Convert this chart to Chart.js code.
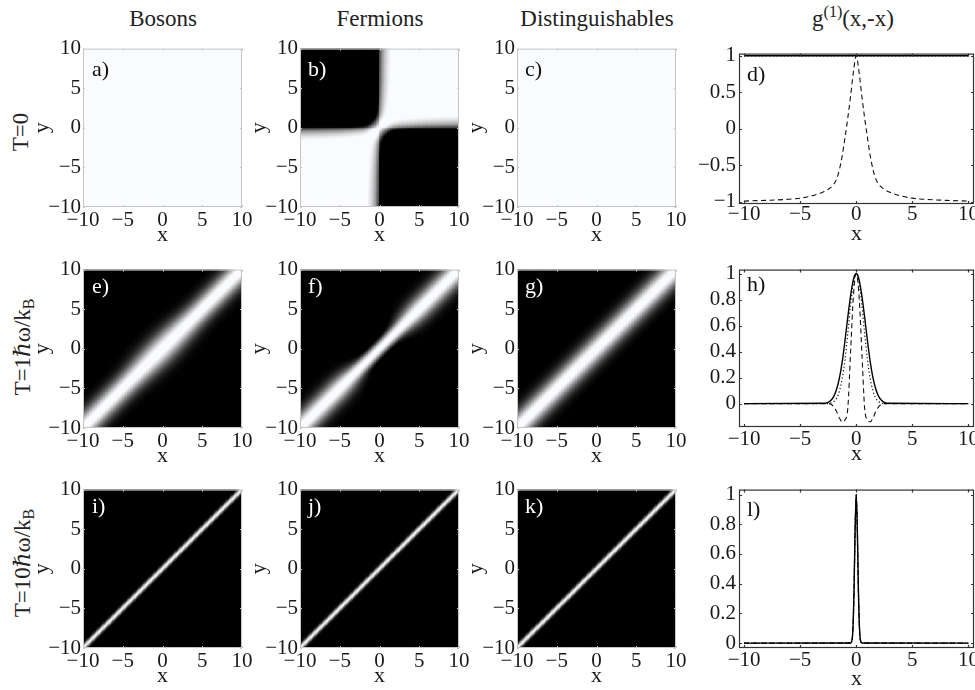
<!DOCTYPE html>
<html>
<head>
<meta charset="utf-8">
<script src="https://cdn.jsdelivr.net/npm/chart.js@4.4.1/dist/chart.umd.min.js"></script>
<style>
html, body { margin: 0; padding: 0; background: #fff; overflow: hidden; }
#fig { position: relative; width: 975px; height: 690px; overflow: hidden;
       font-family: "Liberation Serif", "DejaVu Serif", serif; color: #222; }
#fig canvas { position: absolute; }
.col { position: absolute; top: 7px; font-size: 23px; line-height: 23px; white-space: nowrap; transform: translateX(-50%); }
.row { position: absolute; font-size: 23px; line-height: 23px; white-space: nowrap; transform: translate(-50%, -50%) rotate(-90deg); }
sub { font-size: 16px; line-height: 0; vertical-align: -0.3em; }
sup { font-size: 16px; line-height: 0; vertical-align: 0.55em; }
</style>
</head>
<body>
<div id="fig">
  <div class="col" style="left:163px">Bosons</div>
  <div class="col" style="left:380px">Fermions</div>
  <div class="col" style="left:597px">Distinguishables</div>
  <div class="col" style="left:853px">g<sup>(1)</sup>(x,-x)</div>
  <div class="row" style="left:20px;top:132px">T=0</div>
  <div class="row" style="left:22px;top:347px">T=1ℏω/k<sub>B</sub></div>
  <div class="row" style="left:22px;top:563px">T=10ℏω/k<sub>B</sub></div>
</div>
<script>
// tick labels
const heatTicks = [-10, -5, 0, 5, 10];
const lineXTicks = [-10, -5, 0, 5, 10];
const dYTicks = [-1, -0.5, 0, 0.5, 1];
const hYTicks = [0, 0.2, 0.4, 0.6, 0.8, 1];
const lYTicks = [0, 0.2, 0.4, 0.6, 0.8, 1];

// g1(x,-x) at T = 0  (panel d)
const dX = [-10, -8, -6, -5, -4, -3, -2.5, -2, -1.75, -1.5, -1.25, -1, -0.75, -0.5, -0.25, 0,
            0.25, 0.5, 0.75, 1, 1.25, 1.5, 1.75, 2, 2.5, 3, 4, 5, 6, 8, 10];
const dBosons = [1, 1, 1, 1, 1, 1, 1, 1, 1, 1, 1, 1, 1, 1, 1, 1,
                 1, 1, 1, 1, 1, 1, 1, 1, 1, 1, 1, 1, 1, 1, 1];
const dFermions = [-0.99, -0.98, -0.965, -0.95, -0.92, -0.87, -0.83, -0.76, -0.69, -0.56, -0.37, -0.12, 0.15, 0.45, 0.78, 1,
                   0.78, 0.45, 0.15, -0.12, -0.37, -0.56, -0.69, -0.76, -0.83, -0.87, -0.92, -0.95, -0.965, -0.98, -0.99];
const dDisting = [1, 1, 1, 1, 1, 1, 1, 1, 1, 1, 1, 1, 1, 1, 1, 1,
                  1, 1, 1, 1, 1, 1, 1, 1, 1, 1, 1, 1, 1, 1, 1];

// g1(x,-x) at T = 1 hbar omega / kB  (panel h)
const hX = [-10, -3, -2.5, -2.25, -2, -1.75, -1.5, -1.25, -1, -0.75, -0.5, -0.25, 0,
            0.25, 0.5, 0.75, 1, 1.25, 1.5, 1.75, 2, 2.25, 2.5, 3, 10];
const hBosons = [0, 0.002, 0.01, 0.025, 0.055, 0.11, 0.195, 0.32, 0.485, 0.665, 0.83, 0.955, 1,
                 0.955, 0.83, 0.665, 0.485, 0.32, 0.195, 0.11, 0.055, 0.025, 0.01, 0.002, 0];
const hFermions = [0, 0, 0, -0.005, -0.025, -0.06, -0.11, -0.14, -0.125, -0.035, 0.4, 0.83, 1,
                   0.83, 0.4, -0.035, -0.125, -0.14, -0.11, -0.06, -0.025, -0.005, 0, 0, 0];
const hDisting = [0, 0, 0, 0.005, 0.015, 0.04, 0.095, 0.19, 0.34, 0.54, 0.76, 0.93, 1,
                  0.93, 0.76, 0.54, 0.34, 0.19, 0.095, 0.04, 0.015, 0.005, 0, 0, 0];

// g1(x,-x) at T = 10 hbar omega / kB  (panel l)
const lX = [-10, -0.5, -0.4, -0.3, -0.2, -0.1, 0, 0.1, 0.2, 0.3, 0.4, 0.5, 10];
const lBosons = [0, 0.001, 0.013, 0.087, 0.34, 0.76, 1, 0.76, 0.34, 0.087, 0.013, 0.001, 0];
const lFermions = [0, 0, 0.01, 0.08, 0.33, 0.75, 1, 0.75, 0.33, 0.08, 0.01, 0, 0];
const lDisting = [0, 0.001, 0.012, 0.085, 0.335, 0.755, 1, 0.755, 0.335, 0.085, 0.012, 0.001, 0];

// how far along the diagonal (x+y)/2 the exchange effect near the origin reaches (e, f)
const blendS = [0, 1, 2, 3, 4, 5, 10];
const blendW = [1, 0.92, 0.7, 0.4, 0.15, 0.03, 0];

const fig = document.getElementById('fig');
Chart.defaults.font.family = '"Liberation Serif", "DejaVu Serif", serif';
Chart.defaults.color = '#222';
Chart.defaults.animation = false;
Chart.defaults.events = [];
Chart.defaults.plugins.legend.display = false;
Chart.defaults.plugins.tooltip.enabled = false;

function at(xs, ys, x) {
    if (x <= xs[0]) return ys[0];
    for (let i = 1; i < xs.length; i++) {
        if (x <= xs[i]) {
            const t = (x - xs[i - 1]) / (xs[i] - xs[i - 1]);
            return ys[i - 1] + t * (ys[i] - ys[i - 1]);
        }
    }
    return ys[ys.length - 1];
}

// T = 0: two-mode state, g1(x,y) = cos(th(x) - th(y)) with g1(x,-x) = cos(2 th(x))
function zeroT(xs, ys) {
    const th = u => Math.sign(u) * Math.acos(Math.max(-1, Math.min(1, at(xs, ys, Math.abs(u))))) / 2;
    return (x, y) => Math.cos(th(x) - th(y));
}

// finite T: band across the diagonal, its profile taken from g1(x,-x)
function finiteT(xs, ys, far) {
    return (x, y) => {
        const u = Math.abs(y - x) / 2;
        const w = at(blendS, blendW, Math.abs(x + y) / 2);
        return (1 - w) * at(xs, far, u) + w * at(xs, ys, u);
    };
}

// gray levels, the top of the range is shown as plain white
function gray(v) {
    v = Math.min(1, Math.max(0, v / 0.92));
    return `rgb(${Math.round(250 * v)},${Math.round(251 * v)},${Math.round(253 * v)})`;
}

function cells(n, valueAt) {
    const pts = [], cols = [];
    const step = 20 / n;
    for (let i = 0; i < n; i++) {
        for (let j = 0; j < n; j++) {
            const x = -10 + (i + 0.5) * step, y = -10 + (j + 0.5) * step;
            pts.push({x: x, y: y});
            cols.push(gray(valueAt(x, y)));
        }
    }
    return {pts, cols};
}

function cellRadius(chart, n) {
    const a = chart.chartArea;
    if (!a) return 1;
    const px = Math.max(a.width, a.height) / n;
    return (px / 2 + 0.4) / Math.SQRT1_2;
}

const fmt = v => String(v).replace('-', '\u2212');

// frame, inward ticks and panel letter
const frame = {
    id: 'frame',
    afterDraw(chart, args, o) {
        const {ctx, chartArea: a} = chart;
        ctx.save();
        ctx.strokeStyle = o.color;
        ctx.lineWidth = o.width;
        ctx.strokeRect(a.left + 0.5, a.top + 0.5, a.width - 1, a.height - 1);
        ctx.beginPath();
        chart.scales.x.ticks.forEach(t => {
            const px = Math.round(chart.scales.x.getPixelForValue(t.value)) + 0.5;
            ctx.moveTo(px, a.bottom); ctx.lineTo(px, a.bottom - o.tick);
            ctx.moveTo(px, a.top); ctx.lineTo(px, a.top + o.tick);
        });
        chart.scales.y.ticks.forEach(t => {
            const py = Math.round(chart.scales.y.getPixelForValue(t.value)) + 0.5;
            ctx.moveTo(a.left, py); ctx.lineTo(a.left + o.tick, py);
            ctx.moveTo(a.right, py); ctx.lineTo(a.right - o.tick, py);
        });
        ctx.stroke();
        ctx.fillStyle = o.ink;
        ctx.font = '22px "Liberation Serif", "DejaVu Serif", serif';
        ctx.textBaseline = 'alphabetic';
        ctx.fillText(o.label, a.left + o.dx, a.top + o.dy);
        ctx.restore();
    }
};

function axis(ticks, min, max, size, isX, o) {
    return {
        type: 'linear', min: min, max: max,
        afterBuildTicks: s => { s.ticks = ticks.map(v => ({value: v})); },
        afterFit: s => { if (isX) s.height = size; else s.width = size; },
        grid: {display: false, drawTicks: false},
        border: {display: false},
        ticks: {padding: o.pad, font: {size: 21}, color: '#1a1a1a', autoSkip: false, maxRotation: 0, callback: fmt},
        title: o.title ? {display: true, text: o.title, font: {size: 22}, color: '#1a1a1a', padding: o.titlePad}
                       : {display: false}
    };
}

function makeCanvas(left, top, w, h, padL, padT, padR, padB) {
    const cv = document.createElement('canvas');
    cv.width = padL + w + padR;
    cv.height = padT + h + padB;
    cv.style.left = (left - padL) + 'px';
    cv.style.top = (top - padT) + 'px';
    fig.appendChild(cv);
    return cv;
}

const heatPanels = [
    {left: 83,  top: 48,  n: 20,  value: zeroT(dX, dBosons),   label: 'a)', ink: '#111', dx: 9, dy: 27},
    {left: 300, top: 48,  n: 100, value: zeroT(dX, dFermions), label: 'b)', ink: '#fff', dx: 8, dy: 27},
    {left: 517, top: 48,  n: 20,  value: zeroT(dX, dDisting),  label: 'c)', ink: '#111', dx: 8, dy: 27},
    {left: 83,  top: 269, n: 100, value: finiteT(hX, hBosons, hDisting),   label: 'e)', ink: '#fff', dx: 9, dy: 23},
    {left: 300, top: 269, n: 100, value: finiteT(hX, hFermions, hDisting), label: 'f)', ink: '#fff', dx: 8, dy: 23},
    {left: 517, top: 269, n: 100, value: finiteT(hX, hDisting, hDisting),  label: 'g)', ink: '#fff', dx: 8, dy: 23},
    {left: 83,  top: 489, n: 128, value: finiteT(lX, lBosons, lDisting),   label: 'i)', ink: '#fff', dx: 9, dy: 23},
    {left: 300, top: 489, n: 128, value: finiteT(lX, lFermions, lDisting), label: 'j)', ink: '#fff', dx: 8, dy: 23},
    {left: 517, top: 489, n: 128, value: finiteT(lX, lDisting, lDisting),  label: 'k)', ink: '#fff', dx: 8, dy: 23}
];

heatPanels.forEach(p => {
    const cv = makeCanvas(p.left, p.top, 159, 159, 54, 14, 14, 45);
    const grid = cells(p.n, p.value);
    new Chart(cv, {
        type: 'scatter',
        data: {
            datasets: [{
                data: grid.pts,
                pointBackgroundColor: grid.cols,
                pointBorderWidth: 0,
                pointStyle: 'rect',
                pointRadius: c => cellRadius(c.chart, p.n),
                pointHoverRadius: 0,
                showLine: false,
                clip: 0
            }]
        },
        options: {
            responsive: false,
            parsing: false,
            normalized: true,
            layout: {padding: {left: 0, top: 14, right: 14, bottom: 0}},
            scales: {
                x: axis(heatTicks, -10, 10, 45, true, {pad: 1, title: 'x', titlePad: {top: 0, bottom: 3.5}}),
                y: axis(heatTicks, -10, 10, 54, false, {pad: 2, title: 'y', titlePad: {top: 0, bottom: 0}})
            },
            plugins: {frame: {color: '#c4c6ca', width: 1, tick: 2, ink: p.ink, label: p.label, dx: p.dx, dy: p.dy}}
        },
        plugins: [frame]
    });
});

const linePanels = [
    {top: 52,  h: 152, x: dX, bos: dBosons, fer: dFermions, dis: dDisting, yTicks: dYTicks, min: -1.03, max: 1.03,
     label: 'd)', dy: 27, tickPad: -2, titlePad: 2},
    {top: 268, h: 159, x: hX, bos: hBosons, fer: hFermions, dis: hDisting, yTicks: hYTicks, min: -0.18, max: 1.03,
     label: 'h)', dy: 21, tickPad: 0, titlePad: 5},
    {top: 488, h: 160, x: lX, bos: lBosons, fer: lFermions, dis: lDisting, yTicks: lYTicks, min: -0.033, max: 1.033,
     label: 'l)', dy: 26, tickPad: 0, titlePad: 1}
];

const zip = (xs, ys) => xs.map((x, i) => ({x: x, y: ys[i]}));

linePanels.forEach(p => {
    const cv = makeCanvas(739, p.top, 235, p.h, 52, 14, 14, 45);
    new Chart(cv, {
        type: 'line',
        data: {
            datasets: [
                {data: zip(p.x, p.bos), borderColor: '#000', borderWidth: 1.4},
                {data: zip(p.x, p.fer), borderColor: '#111', borderWidth: 1.1, borderDash: [5, 3.5]},
                {data: zip(p.x, p.dis), borderColor: '#111', borderWidth: 1.2, borderDash: [1.2, 2.4]}
            ]
        },
        options: {
            responsive: false,
            elements: {point: {radius: 0}, line: {cubicInterpolationMode: 'monotone', fill: false}},
            layout: {padding: {left: 0, top: 14, right: 14, bottom: 0}},
            scales: {
                x: axis(lineXTicks, -10.45, 10.5, 45, true, {pad: p.tickPad, title: 'x', titlePad: {top: 0, bottom: p.titlePad}}),
                y: axis(p.yTicks, p.min, p.max, 52, false, {pad: 3})
            },
            plugins: {frame: {color: '#333', width: 1.2, tick: 3, ink: '#111', label: p.label, dx: 8, dy: p.dy}}
        },
        plugins: [frame]
    });
});
</script>
</body>
</html>
